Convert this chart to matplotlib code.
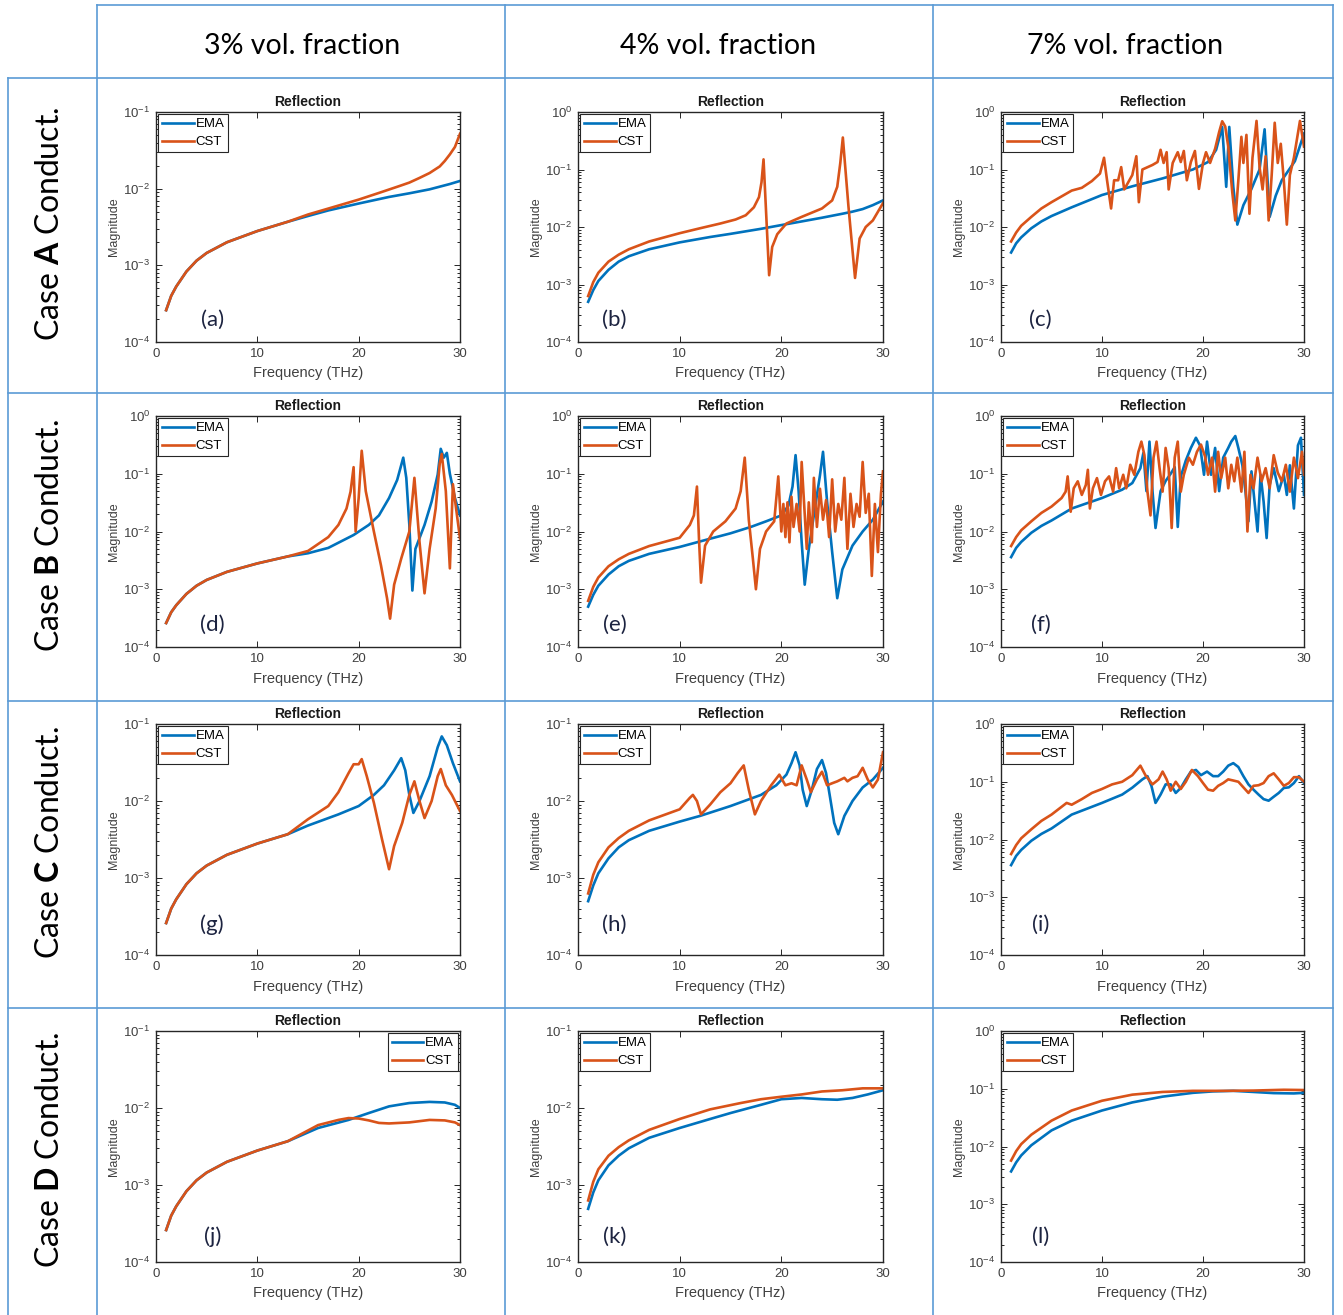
import numpy as np
import matplotlib
matplotlib.use('Agg')
import matplotlib.pyplot as plt
from matplotlib.ticker import LogLocator, NullFormatter

plt.rcParams['font.family'] = ['Liberation Sans', 'DejaVu Sans']
plt.rcParams['mathtext.fontset'] = 'custom'
plt.rcParams['mathtext.bf'] = 'Lato:bold'
plt.rcParams['mathtext.rm'] = 'Lato'

# ---- data (frequency in THz, reflection magnitude) ----
# shared low-frequency parts
base3_f = [1, 1.5, 2, 3, 4, 5, 7, 10, 13]
base3_m = [2.6e-4, 4e-4, 5.3e-4, 8.3e-4, 1.15e-3, 1.45e-3, 2e-3, 2.8e-3, 3.7e-3]
base4_f = [1, 1.5, 2, 3, 4, 5, 7, 10]
base4_ema = [5e-4, 8e-4, 1.15e-3, 1.8e-3, 2.5e-3, 3.1e-3, 4.1e-3, 5.4e-3]
base4_cst = [6.3e-4, 1.1e-3, 1.6e-3, 2.5e-3, 3.3e-3, 4.1e-3, 5.6e-3, 7.8e-3]
base7_f = [1, 1.5, 2, 3, 4, 5]
base7_ema = [3.6e-3, 5.2e-3, 6.6e-3, 9.5e-3, 1.25e-2, 1.55e-2]
base7_cst = [5.6e-3, 8e-3, 1.05e-2, 1.5e-2, 2.1e-2, 2.7e-2]

# (a)
a_ema_f = base3_f + [15, 17, 20, 23, 25, 27, 29, 30]
a_ema = base3_m + [4.4e-3, 5.2e-3, 6.4e-3, 7.8e-3, 8.7e-3, 9.8e-3, 1.15e-2, 1.26e-2]
a_cst_f = base3_f + [15, 17, 20, 22, 24, 25, 26, 27, 28, 28.5, 29, 29.5, 30]
a_cst = base3_m + [4.6e-3, 5.5e-3, 7.2e-3, 8.8e-3, 1.08e-2, 1.2e-2, 1.38e-2, 1.6e-2,
                   1.95e-2, 2.3e-2, 2.8e-2, 3.5e-2, 5.2e-2]

# (b)
b_ema_f = base4_f + [13, 15, 18, 20, 22, 24, 26, 27, 28, 29, 30]
b_ema = base4_ema + [6.7e-3, 7.6e-3, 9.3e-3, 1.08e-2, 1.25e-2, 1.45e-2, 1.7e-2, 1.85e-2,
                     2.05e-2, 2.4e-2, 2.9e-2]
b_cst_f = base4_f + [12, 14, 15.5, 16.5, 17.3, 17.8, 18.05, 18.25, 18.8, 19.1, 19.6, 20.5,
                     22, 24, 25, 25.5, 25.8, 26.05, 26.6, 27.25, 27.7, 28.3, 29, 30]
b_cst = base4_cst + [9.5e-3, 1.15e-2, 1.35e-2, 1.6e-2, 2.2e-2, 3.3e-2, 6e-2, 1.5e-1, 1.45e-3,
                     4.5e-3, 7.5e-3, 1.15e-2, 1.5e-2, 2.1e-2, 2.9e-2, 5e-2, 1.3e-1, 3.6e-1,
                     2.3e-2, 1.3e-3, 6.3e-3, 1e-2, 1.3e-2, 2.6e-2]

# (c)
c_ema_f = base7_f + [7, 10, 13, 16, 19, 20.5, 21.3, 21.9, 22.3, 22.6, 23.0, 23.4, 24.0, 24.8,
                     25.6, 26.1, 26.6, 27.2, 27.8, 29.1, 30]
c_ema = base7_ema + [2.2e-2, 3.6e-2, 5.1e-2, 7e-2, 1e-1, 1.35e-1, 2.2e-1, 5.5e-1, 5e-2, 5.5e-1,
                     5e-2, 1.1e-2, 2.4e-2, 4.6e-2, 1e-1, 5e-1, 1.5e-2, 3.5e-2, 6.5e-2, 1.4e-1,
                     4.2e-1]
c_cst_f = base7_f + [7, 8, 9, 9.8, 10.2, 10.5, 10.9, 11.2, 11.6, 11.9, 12.2, 13, 13.4, 13.65,
                     14, 15, 15.5, 15.8, 16.1, 16.4, 16.6, 17, 17.5, 17.8, 18.1, 18.4, 18.8,
                     19.2, 19.6, 20, 20.3, 20.7, 21.2, 21.6, 21.9, 22.2, 22.5, 22.9, 23.2, 23.5,
                     23.8, 24.0, 24.3, 24.6, 24.9, 25.3, 25.6, 25.9, 26.2, 26.5, 26.8, 27.1,
                     27.4, 27.7, 28.0, 28.3, 28.6, 29.0, 29.6, 30]
c_cst = base7_cst + [4.3e-2, 4.8e-2, 6.3e-2, 8.5e-2, 1.6e-1, 6.5e-2, 2.1e-2, 6.5e-2, 6.5e-2,
                     1.1e-1, 4.5e-2, 8e-2, 1.7e-1, 2.7e-2, 1e-1, 1.2e-1, 1.35e-1, 2.2e-1,
                     1.3e-1, 2e-1, 4.5e-2, 1.3e-1, 2e-1, 1.35e-1, 2.1e-1, 6.5e-2, 1.35e-1,
                     2.1e-1, 4.6e-2, 1.3e-1, 2e-1, 1.3e-1, 2.3e-1, 4.5e-1, 6.9e-1, 5.6e-1,
                     2.5e-1, 4e-2, 1.3e-2, 6.5e-2, 3.7e-1, 1.3e-1, 4e-1, 1.7e-2, 1.6e-1, 7e-1,
                     1.1e-1, 4.5e-2, 1.7e-1, 1.3e-2, 8e-2, 6.5e-1, 1.3e-1, 2.8e-1, 6.5e-2,
                     1.1e-2, 8e-2, 1.6e-1, 7e-1, 2.5e-1]

# (d)
d_ema_f = base3_f + [15, 17, 19.5, 21, 22, 23, 23.8, 24.4, 24.7, 25.0, 25.3, 25.6, 26.5, 27.2,
                     27.8, 28.1, 28.4, 28.7, 29.0, 29.5, 30]
d_ema = base3_m + [4.2e-3, 5.2e-3, 8.7e-3, 1.3e-2, 1.9e-2, 3.8e-2, 7.8e-2, 1.9e-1, 8.5e-2,
                   1.3e-2, 9.5e-4, 5e-3, 1.3e-2, 3.3e-2, 9.7e-2, 2.7e-1, 1.9e-1, 2.3e-1, 1e-1,
                   3.8e-2, 1.9e-2]
d_cst_f = base3_f + [15, 17, 18, 18.8, 19.2, 19.5, 19.7, 20.0, 20.3, 20.7, 21.5, 22.2, 22.8,
                     23.1, 23.5, 24.2, 25.0, 25.5, 26.0, 26.5, 27.0, 27.6, 28.0, 28.2, 28.6,
                     29.0, 29.3, 30]
d_cst = base3_m + [4.6e-3, 8e-3, 1.3e-2, 2.5e-2, 4.9e-2, 1.3e-1, 1e-2, 3.8e-2, 2.5e-1, 5e-2,
                   1e-2, 2.6e-3, 7e-4, 3.1e-4, 1.2e-3, 3.4e-3, 1e-2, 8.5e-2, 6.7e-3, 8.5e-4,
                   5e-3, 2.5e-2, 1.5e-1, 2.2e-1, 5e-2, 2.3e-3, 6.6e-2, 7.6e-3]

# (e)
e_ema_f = base4_f + [13, 15, 17, 18.5, 20, 20.7, 21.1, 21.4, 21.7, 22.0, 22.3, 22.7, 23.3,
                     23.8, 24.1, 24.5, 25.0, 25.5, 26, 27, 28, 29, 30]
e_ema = base4_ema + [7.5e-3, 9.3e-3, 1.2e-2, 1.5e-2, 1.9e-2, 2.8e-2, 6e-2, 2.1e-1, 5e-2,
                     6.5e-3, 1.2e-3, 5e-3, 2.5e-2, 9.4e-2, 2.4e-1, 3.3e-2, 4.4e-3, 7e-4,
                     2.2e-3, 5.7e-3, 1e-2, 1.6e-2, 3.3e-2]
e_cst_f = base4_f + [11, 11.4, 11.7, 11.9, 12.1, 12.5, 13.3, 14.5, 15.5, 16.0, 16.4, 16.8,
                     17.2, 17.5, 17.9, 18.5, 19.3, 19.7, 20.0, 20.2, 20.4, 20.6, 20.8, 21.0,
                     21.2, 21.5, 21.8, 22.0, 22.3, 22.5, 22.7, 23.0, 23.2, 23.5, 23.8, 24.1,
                     24.4, 24.7, 25.0, 25.3, 25.6, 25.9, 26.2, 26.5, 26.8, 27.1, 27.4, 27.7,
                     28.0, 28.3, 28.6, 28.9, 29.2, 29.5, 29.8, 30]
e_cst = base4_cst + [1.3e-2, 1.9e-2, 6e-2, 7.5e-3, 1.3e-3, 5.7e-3, 1e-2, 1.5e-2, 2.5e-2, 5e-2,
                     1.9e-1, 1.6e-2, 3.4e-3, 1e-3, 5e-3, 1e-2, 1.5e-2, 9e-2, 1e-2, 3e-2, 8e-3,
                     3.2e-2, 6.5e-3, 4e-2, 1.2e-2, 3e-2, 1e-2, 1.6e-1, 2e-2, 5e-3, 3.2e-2,
                     6.5e-3, 8.5e-2, 1.2e-2, 5.5e-2, 1.6e-2, 3.5e-2, 8e-3, 8e-2, 1e-2, 3e-2,
                     1.6e-2, 8.5e-2, 5e-3, 4.5e-2, 1.2e-2, 3e-2, 1.8e-2, 1.6e-1, 2.1e-2, 4.5e-2,
                     1.7e-3, 3e-2, 4.4e-3, 4.5e-2, 1.1e-1]

# (f)
f_ema_f = base7_f + [7, 10, 12, 13, 13.8, 14.1, 14.4, 14.7, 15.0, 15.3, 15.8, 16.3, 16.8, 17.2,
                     17.5, 17.8, 18.3, 18.8, 19.3, 19.7, 20.1, 20.4, 20.8, 21.2, 21.6, 22.0,
                     22.5, 22.8, 23.2, 23.5, 23.9, 24.2, 24.5, 24.8, 25.1, 25.4, 25.7, 26.0,
                     26.3, 26.6, 27.0, 27.5, 28.0, 28.3, 28.6, 29.0, 29.4, 29.7, 30]
f_ema = base7_ema + [0.025, 0.038, 0.053, 0.069, 0.125, 0.23, 0.05, 0.36, 0.05, 0.0115, 0.05,
                     0.075, 0.1, 0.13, 0.012, 0.09, 0.17, 0.28, 0.42, 0.31, 0.096, 0.36, 0.096,
                     0.28, 0.05, 0.19, 0.28, 0.36, 0.45, 0.28, 0.14, 0.05, 0.015, 0.11, 0.033,
                     0.01, 0.096, 0.033, 0.0077, 0.064, 0.125, 0.05, 0.096, 0.043, 0.14, 0.025,
                     0.31, 0.42, 0.043]
f_cst_f = base7_f + [6, 6.4, 6.6, 6.9, 7.2, 7.6, 8.0, 8.4, 8.6, 8.8, 9.1, 9.5, 9.9, 10.3, 10.7,
                     11.1, 11.4, 11.7, 12.1, 12.4, 12.8, 13.2, 13.6, 13.9, 14.2, 14.5, 14.8,
                     15.1, 15.4, 15.7, 16.0, 16.3, 16.6, 16.9, 17.2, 17.5, 17.8, 18.1, 18.6,
                     19.0, 19.4, 19.8, 20.2, 20.5, 20.9, 21.2, 21.5, 21.8, 22.2, 22.5, 22.8,
                     23.1, 23.4, 23.8, 24.1, 24.4, 24.7, 25.0, 25.4, 25.8, 26.2, 26.6, 27.0,
                     27.4, 27.8, 28.2, 28.6, 29.0, 29.4, 29.8, 30]
f_cst = base7_cst + [0.038, 0.049, 0.09, 0.022, 0.056, 0.074, 0.043, 0.064, 0.117, 0.025,
                     0.056, 0.084, 0.043, 0.074, 0.09, 0.049, 0.125, 0.056, 0.096, 0.056,
                     0.143, 0.096, 0.24, 0.36, 0.21, 0.049, 0.019, 0.19, 0.36, 0.125,
                     0.049, 0.28, 0.125, 0.0115, 0.19, 0.36, 0.049, 0.096, 0.19, 0.143,
                     0.24, 0.32, 0.2, 0.096, 0.19, 0.049, 0.24, 0.084, 0.19, 0.056,
                     0.143, 0.074, 0.19, 0.049, 0.24, 0.01, 0.096, 0.056, 0.19, 0.074,
                     0.125, 0.056, 0.21, 0.105, 0.074, 0.143, 0.049, 0.19, 0.084, 0.24, 0.096]

# (g)
g_ema_f = base3_f + [15, 18, 20, 21.5, 22.5, 23.5, 24.2, 24.6, 25.0, 25.4, 26.0, 27, 27.8,
                     28.2, 28.7, 29.3, 30]
g_ema = base3_m + [4.8e-3, 6.7e-3, 8.6e-3, 1.2e-2, 1.6e-2, 2.5e-2, 3.6e-2, 2.5e-2, 1.2e-2,
                   7e-3, 1e-2, 2.1e-2, 5e-2, 6.9e-2, 5.3e-2, 3.1e-2, 1.8e-2]
g_cst_f = base3_f + [15, 17, 18, 19, 19.5, 20, 20.3, 20.8, 21.5, 22.3, 23.0, 23.5, 24.3, 25.0,
                     25.5, 26.0, 26.5, 27.2, 27.8, 28.1, 28.6, 29.2, 30]
g_cst = base3_m + [5.8e-3, 8.6e-3, 1.3e-2, 2.3e-2, 3e-2, 3e-2, 3.5e-2, 2.1e-2, 9.5e-3, 3.2e-3,
                   1.3e-3, 2.6e-3, 5.2e-3, 1.2e-2, 1.8e-2, 1e-2, 6e-3, 1e-2, 2.1e-2, 2.6e-2,
                   1.6e-2, 1.2e-2, 7.4e-3]

# (h)
h_ema_f = base4_f + [12, 15, 18, 19.5, 20.5, 21.0, 21.4, 21.8, 22.1, 22.5, 23.0, 23.5, 24.0,
                     24.4, 24.8, 25.2, 25.6, 26.2, 27, 28, 29, 30]
h_ema = base4_ema + [6.4e-3, 8.6e-3, 1.2e-2, 1.6e-2, 2.2e-2, 3.1e-2, 4.3e-2, 2.9e-2, 1.4e-2,
                     8.6e-3, 1.4e-2, 2.6e-2, 3.4e-2, 2.3e-2, 1.1e-2, 5.2e-3, 3.7e-3, 6.4e-3,
                     1e-2, 1.5e-2, 1.9e-2, 2.7e-2]
h_cst_f = base4_f + [11, 11.3, 11.7, 12.1, 13, 14, 15, 15.7, 16.3, 16.8, 17.4, 18, 19, 19.8,
                     20.4, 21, 21.5, 22.0, 22.5, 22.9, 23.5, 24.0, 24.5, 25.0, 25.5, 26.2,
                     26.5, 27.0, 27.5, 28.0, 28.5, 29.0, 29.5, 30]
h_cst = base4_cst + [1.1e-2, 1.2e-2, 1e-2, 6.7e-3, 9e-3, 1.3e-2, 1.7e-2, 2.3e-2, 2.9e-2,
                     1.4e-2, 6.7e-3, 1e-2, 1.6e-2, 2.2e-2, 1.6e-2, 1.7e-2, 1.6e-2, 2.9e-2,
                     1.9e-2, 1.3e-2, 1.9e-2, 2.4e-2, 1.6e-2, 1.7e-2, 1.8e-2, 2e-2, 1.8e-2,
                     2e-2, 2.1e-2, 2.7e-2, 1.9e-2, 1.5e-2, 1.9e-2, 4.3e-2]

# (i)
i_ema_f = base7_f + [7, 10, 12, 13, 14, 14.5, 14.9, 15.3, 15.8, 16.3, 16.8, 17.3, 17.8, 18.3,
                     18.8, 19.3, 19.8, 20.4, 21.0, 21.5, 22, 22.5, 23.0, 23.5, 24.0, 24.5,
                     25.0, 25.5, 26.0, 26.5, 27, 27.5, 28, 28.5, 29.0, 29.5, 30]
i_ema = base7_ema + [0.027, 0.043, 0.06, 0.079, 0.11, 0.125, 0.084, 0.043, 0.06, 0.09, 0.09,
                     0.064, 0.078, 0.11, 0.15, 0.16, 0.13, 0.15, 0.125, 0.125, 0.15, 0.19,
                     0.21, 0.18, 0.125, 0.09, 0.073, 0.06, 0.05, 0.047, 0.055, 0.064, 0.078,
                     0.08, 0.095, 0.125, 0.095]
i_cst_f = base7_f + [6.5, 7, 8, 9, 10, 11, 12, 13, 13.8, 14.3, 15.0, 15.6, 16.0, 16.4, 16.8,
                     17.3, 17.8, 18.3, 18.9, 19.5, 20.0, 20.5, 21.0, 21.5, 22.0, 22.5, 23.0,
                     23.5, 24.0, 24.5, 25.0, 25.5, 26, 26.5, 27, 27.5, 28.0, 28.5, 29, 29.5, 30]
i_cst = base7_cst + [0.043, 0.04, 0.05, 0.064, 0.075, 0.09, 0.1, 0.13, 0.19, 0.13, 0.09, 0.11,
                     0.15, 0.11, 0.07, 0.1, 0.075, 0.1, 0.16, 0.125, 0.095, 0.073, 0.07,
                     0.085, 0.095, 0.11, 0.105, 0.1, 0.08, 0.064, 0.085, 0.087, 0.095, 0.125,
                     0.14, 0.11, 0.085, 0.095, 0.12, 0.12, 0.1]

# (j)
j_ema_f = base3_f + [16, 19, 21, 23, 25, 27, 28.5, 29.5, 30]
j_ema = base3_m + [5.5e-3, 7e-3, 8.6e-3, 1.05e-2, 1.16e-2, 1.2e-2, 1.18e-2, 1.1e-2, 1e-2]
j_cst_f = base3_f + [16, 18, 19, 20, 21, 22, 23, 24, 25, 27, 28.5, 29.5, 30]
j_cst = base3_m + [6e-3, 7e-3, 7.4e-3, 7.3e-3, 6.9e-3, 6.4e-3, 6.3e-3, 6.4e-3, 6.5e-3, 7e-3,
                   6.9e-3, 6.5e-3, 6e-3]

# (k)
k_ema_f = [1, 1.5, 2, 3, 4, 5, 7, 10, 13, 15, 18, 20, 22, 24, 25.5, 27, 28.5, 30]
k_ema = [4.9e-4, 8e-4, 1.15e-3, 1.8e-3, 2.4e-3, 3e-3, 4.1e-3, 5.5e-3, 7.2e-3, 8.6e-3, 1.1e-2,
         1.3e-2, 1.35e-2, 1.3e-2, 1.28e-2, 1.35e-2, 1.5e-2, 1.7e-2]
k_cst_f = [1, 1.5, 2, 3, 4, 5, 7, 10, 13, 16, 18, 20, 22, 24, 26, 28, 30]
k_cst = [6.3e-4, 1.1e-3, 1.6e-3, 2.4e-3, 3.1e-3, 3.8e-3, 5.2e-3, 7.2e-3, 9.6e-3, 1.16e-2,
         1.3e-2, 1.4e-2, 1.5e-2, 1.64e-2, 1.7e-2, 1.8e-2, 1.8e-2]

# (l)
l_ema_f = [1, 1.5, 2, 3, 5, 7, 10, 13, 16, 19, 21, 23, 25, 27, 29, 30]
l_ema = [3.7e-3, 5.3e-3, 7e-3, 1.05e-2, 1.9e-2, 2.8e-2, 4.2e-2, 5.8e-2, 7.3e-2, 8.5e-2, 9e-2,
         9.2e-2, 8.8e-2, 8.4e-2, 8.3e-2, 8.5e-2]
l_cst_f = [1, 1.5, 2, 3, 5, 7, 10, 13, 16, 19, 22, 25, 28, 30]
l_cst = [5.7e-3, 8.3e-3, 1.1e-2, 1.6e-2, 2.8e-2, 4.2e-2, 6.2e-2, 7.9e-2, 8.8e-2, 9.2e-2,
         9.2e-2, 9.3e-2, 9.6e-2, 9.5e-2]

panel_letters = ['a', 'b', 'c', 'd', 'e', 'f', 'g', 'h', 'i', 'j', 'k', 'l']
ema_series = [(a_ema_f, a_ema), (b_ema_f, b_ema), (c_ema_f, c_ema), (d_ema_f, d_ema),
              (e_ema_f, e_ema), (f_ema_f, f_ema), (g_ema_f, g_ema), (h_ema_f, h_ema),
              (i_ema_f, i_ema), (j_ema_f, j_ema), (k_ema_f, k_ema), (l_ema_f, l_ema)]
cst_series = [(a_cst_f, a_cst), (b_cst_f, b_cst), (c_cst_f, c_cst), (d_cst_f, d_cst),
              (e_cst_f, e_cst), (f_cst_f, f_cst), (g_cst_f, g_cst), (h_cst_f, h_cst),
              (i_cst_f, i_cst), (j_cst_f, j_cst), (k_cst_f, k_cst), (l_cst_f, l_cst)]
y_top = [1e-1, 1e0, 1e0, 1e0, 1e0, 1e0, 1e-1, 1e-1, 1e0, 1e-1, 1e-1, 1e0]
legend_loc = ['upper left'] * 9 + ['upper right', 'upper left', 'upper left']

col_titles = ['3% vol. fraction', '4% vol. fraction', '7% vol. fraction']
row_titles = ['Case $\\mathbf{A}$ Conduct.', 'Case $\\mathbf{B}$ Conduct.',
              'Case $\\mathbf{C}$ Conduct.', 'Case $\\mathbf{D}$ Conduct.']

for fs, ms in ema_series + cst_series:
    assert len(fs) == len(ms)

# ---- layout (pixels) ----
W, H = 1343, 1315
col_left = [156, 578, 1001]
col_right = [460, 883, 1304]
row_top = [112, 416, 724, 1031]
row_bot = [342, 647, 955, 1262]
grid_color = '#5B9BD5'
ink = '#262626'

fig = plt.figure(figsize=(W / 100, H / 100), dpi=100)
bg = fig.add_axes([0, 0, 1, 1])
bg.set_xlim(0, W)
bg.set_ylim(H, 0)
bg.axis('off')

# table grid
lw_grid = 1.2
bg.plot([97, 1333], [5, 5], color=grid_color, lw=lw_grid)
for y in [78, 393, 701, 1008]:
    bg.plot([8, 1333], [y, y], color=grid_color, lw=lw_grid)
bg.plot([8, 8], [78, H], color=grid_color, lw=lw_grid)
for x in [97, 505, 933, 1333]:
    bg.plot([x, x], [5, H], color=grid_color, lw=lw_grid)

for x, t in zip([302, 718, 1125], col_titles):
    bg.text(x, 46, t, ha='center', va='center', fontsize=20.5, family='Lato', color='black')
for (yt, yb), t in zip([(78, 393), (393, 701), (701, 1008), (1008, 1315)], row_titles):
    bg.text(50, (yt + yb) / 2 - 12, t, ha='center', va='center', rotation=90,
            fontsize=23, family='Lato', color='black')

letter_x = [0.185, 0.12, 0.13]
letter_y = [0.095, 0.095, 0.13, 0.11]

for k in range(12):
    r, c = divmod(k, 3)
    l, rr, t, b = col_left[c], col_right[c], row_top[r], row_bot[r]
    ax = fig.add_axes([l / W, 1 - b / H, (rr - l) / W, (b - t) / H])
    fe, me = ema_series[k]
    fc, mc = cst_series[k]
    ax.semilogy(fe, me, color='#0072BD', lw=1.9, label='EMA')
    ax.semilogy(fc, mc, color='#D95319', lw=1.9, label='CST')
    ax.set_xlim(0, 30)
    ax.set_ylim(1e-4, y_top[k])
    ax.set_xticks([0, 10, 20, 30])
    ax.yaxis.set_major_locator(LogLocator(base=10, numticks=10))
    ax.yaxis.set_minor_locator(LogLocator(base=10, subs=np.arange(2, 10), numticks=20))
    ax.yaxis.set_minor_formatter(NullFormatter())
    ax.tick_params(which='both', direction='in', top=True, right=True, width=0.7,
                   color=ink, labelcolor='#404040', labelsize=9.5, pad=4)
    ax.tick_params(which='major', length=4)
    ax.tick_params(which='minor', length=2)
    for s in ax.spines.values():
        s.set_color(ink)
        s.set_linewidth(1.0)
    ax.set_title('Reflection', fontsize=10, fontweight='bold', color='#1a1a1a', pad=4)
    ax.set_xlabel('Frequency (THz)', fontsize=10.5, color='#404040', labelpad=5)
    ax.set_ylabel('Magnitude', fontsize=9, color='#404040', labelpad=2)
    leg = ax.legend(loc=legend_loc[k], fontsize=9.5, frameon=True, fancybox=False,
                    edgecolor=ink, framealpha=1, borderpad=0.3, handlelength=2.4,
                    handletextpad=0.15, labelspacing=0.45, borderaxespad=0.15)
    leg.get_frame().set_linewidth(0.8)
    ax.text(letter_x[c], letter_y[r], '(' + panel_letters[k] + ')', transform=ax.transAxes,
            fontsize=16, family='Lato', color='#1c2340', ha='center', va='center')

fig.savefig('out.png', dpi=100)
